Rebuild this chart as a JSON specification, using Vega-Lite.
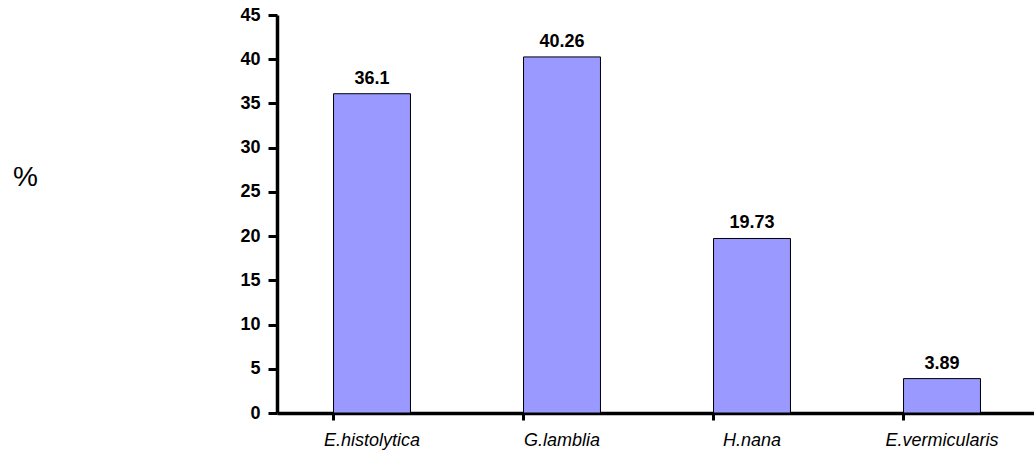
{
  "$schema": "https://vega.github.io/schema/vega-lite/v6.json",
  "autosize": {"type": "none"},
  "padding": {"left": 277, "top": 15, "right": 0, "bottom": 39},
  "width": 760,
  "height": 398,
  "background": "white",
  "config": {"view": {"stroke": null}, "font": "Liberation Sans"},
  "data": {"values": [
    {"parasite": "E.histolytica", "pct": 36.1, "label": "36.1"},
    {"parasite": "G.lamblia", "pct": 40.26, "label": "40.26"},
    {"parasite": "H.nana", "pct": 19.73, "label": "19.73"},
    {"parasite": "E.vermicularis", "pct": 3.89, "label": "3.89"}
  ]},
  "encoding": {
    "x": {"field": "parasite", "type": "nominal", "sort": null,
      "scale": {"paddingInner": 0.595, "paddingOuter": 0.2975},
      "axis": {"title": null, "labelAngle": 0, "bandPosition": 0, "domainColor": "black", "domainWidth": 3.5,
        "tickColor": "black", "tickWidth": 3, "tickSize": 7, "labelPadding": 11,
        "labelFont": "Liberation Sans", "labelFontSize": 18, "labelFontStyle": "italic", "labelColor": "black"}},
    "y": {"field": "pct", "type": "quantitative",
      "scale": {"domain": [0, 45], "nice": false},
      "axis": {"values": [0, 5, 10, 15, 20, 25, 30, 35, 40, 45], "grid": false,
        "domainColor": "black", "domainWidth": 3.5, "tickColor": "black", "tickWidth": 3, "tickSize": 9,
        "labelPadding": 8, "labelFont": "Liberation Sans", "labelFontSize": 18, "labelFontWeight": "bold", "labelColor": "black",
        "title": "%", "titleAngle": 0, "titleX": -252, "titleY": 162, "titleAlign": "center", "titleBaseline": "middle",
        "titleFont": "Liberation Sans", "titleFontSize": 28, "titleFontWeight": "normal", "titleColor": "black"}}
  },
  "layer": [
    {"mark": {"type": "bar", "color": "#9999FF", "stroke": "black", "strokeWidth": 1}},
    {"mark": {"type": "text", "baseline": "alphabetic", "dy": -10, "font": "Liberation Sans", "fontSize": 18, "fontWeight": "bold", "color": "black"},
     "encoding": {"text": {"field": "label"}}}
  ]
}
